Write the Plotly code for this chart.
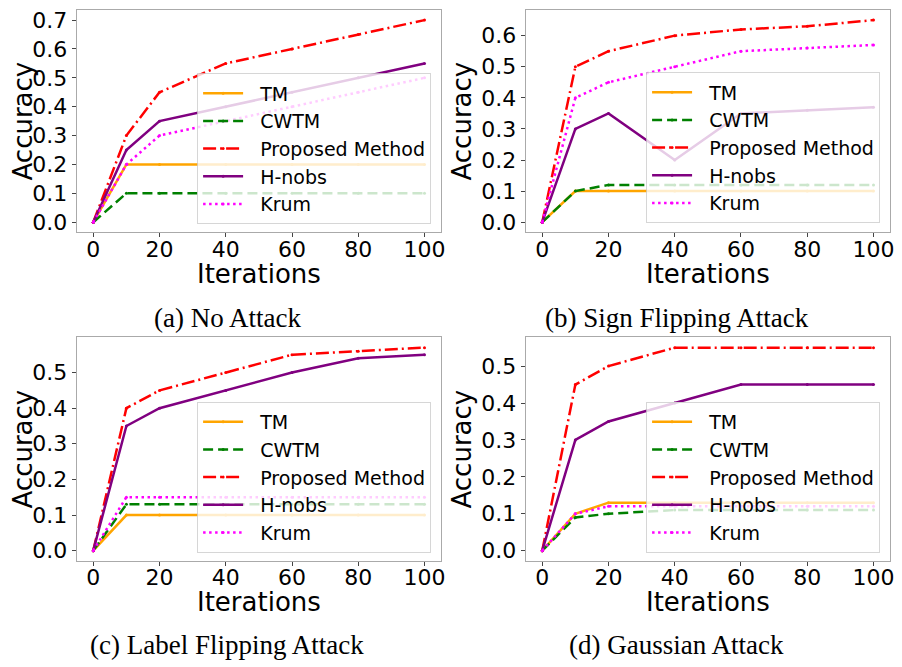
import plotly.graph_objects as go

ITER = [0, 10, 20, 40, 60, 80, 100]
SERIES = ["TM", "CWTM", "Proposed Method", "H-nobs", "Krum"]

TM_A = [0, 0.2, 0.2, 0.2, 0.2, 0.2, 0.2]
CWTM_A = [0, 0.1, 0.1, 0.1, 0.1, 0.1, 0.1]
PROP_A = [0, 0.3, 0.45, 0.55, 0.6, 0.65, 0.7]
HNOBS_A = [0, 0.25, 0.35, 0.4, 0.45, 0.5, 0.55]
KRUM_A = [0, 0.2, 0.3, 0.35, 0.4, 0.45, 0.5]

TM_B = [0, 0.1, 0.1, 0.1, 0.1, 0.1, 0.1]
CWTM_B = [0, 0.1, 0.12, 0.12, 0.12, 0.12, 0.12]
PROP_B = [0, 0.5, 0.55, 0.6, 0.62, 0.63, 0.65]
HNOBS_B = [0, 0.3, 0.35, 0.2, 0.35, 0.36, 0.37]
KRUM_B = [0, 0.4, 0.45, 0.5, 0.55, 0.56, 0.57]

TM_C = [0, 0.1, 0.1, 0.1, 0.1, 0.1, 0.1]
CWTM_C = [0, 0.13, 0.13, 0.13, 0.13, 0.13, 0.13]
PROP_C = [0, 0.4, 0.45, 0.5, 0.55, 0.56, 0.57]
HNOBS_C = [0, 0.35, 0.4, 0.45, 0.5, 0.54, 0.55]
KRUM_C = [0, 0.15, 0.15, 0.15, 0.15, 0.15, 0.15]

TM_D = [0, 0.1, 0.13, 0.13, 0.13, 0.13, 0.13]
CWTM_D = [0, 0.09, 0.1, 0.11, 0.11, 0.11, 0.11]
PROP_D = [0, 0.45, 0.5, 0.55, 0.55, 0.55, 0.55]
HNOBS_D = [0, 0.3, 0.35, 0.4, 0.45, 0.45, 0.45]
KRUM_D = [0, 0.1, 0.12, 0.12, 0.12, 0.12, 0.12]

CAPTIONS = ["(a) No Attack", "(b) Sign Flipping Attack",
            "(c) Label Flipping Attack", "(d) Gaussian Attack"]
X_TITLE = "Iterations"
Y_TITLE = "Accuracy"
X_TICKS = [0, 20, 40, 60, 80, 100]

PANELS = [
    [TM_A, CWTM_A, PROP_A, HNOBS_A, KRUM_A],
    [TM_B, CWTM_B, PROP_B, HNOBS_B, KRUM_B],
    [TM_C, CWTM_C, PROP_C, HNOBS_C, KRUM_C],
    [TM_D, CWTM_D, PROP_D, HNOBS_D, KRUM_D],
]

COLORS = ["#FFA500", "#008000", "#FF0000", "#800080", "#FF00FF"]
DASHES = ["solid", "10px,5px", "13px,4px,2px,4px", "solid", "2.5px,3.5px"]

# page body has an 8px margin: figure sits at (8, 8)
OFF = 8
W, H = 902 - OFF, 667 - OFF
# target screen pixel frames: (left, top, right, bottom)
FRAMES = [(77, 8, 443, 232), (528, 8, 894, 232),
          (77, 338, 443, 563), (528, 338, 894, 563)]
LEGEND_BR = [(433, 224), (884, 223), (433, 555), (884, 555)]
CAPTION_POS = [(228, 318), (680, 318), (228, 648), (680, 648)]


def px(x):
    return min(1.0, max(0.0, (x - OFF) / W))


def py(y):
    return min(1.0, max(0.0, 1 - (y - OFF) / H))


NB = "\u00a0"

fig = go.Figure()
layout = dict(
    width=W, height=H,
    margin=dict(l=0, r=0, t=0, b=0),
    paper_bgcolor="white", plot_bgcolor="white",
    font=dict(family="DejaVu Sans", color="black"),
    showlegend=True,
)

annotations = []
for i, series in enumerate(PANELS):
    idx = "" if i == 0 else str(i + 1)
    xa, ya = "x" + idx, "y" + idx
    leg = "legend" + idx
    for j, vals in enumerate(series):
        fig.add_trace(go.Scatter(
            x=ITER, y=vals, name=NB + NB + SERIES[j], mode="lines+markers",
            line=dict(color=COLORS[j], width=2.5, dash=DASHES[j]),
            marker=dict(color=COLORS[j], size=3),
            xaxis=xa, yaxis=ya, legend=leg,
        ))
    l, t, r, b = FRAMES[i]
    ymax = max(max(v) for v in series)
    ymin = min(min(v) for v in series)
    pad = 0.05 * (ymax - ymin)
    layout["xaxis" + idx] = dict(
        domain=[px(l), px(r)], anchor=ya,
        range=[-5, 105], tickvals=X_TICKS,
        showgrid=False, zeroline=False,
        showline=True, mirror=True, linecolor="#aaaaaa", linewidth=1,
        ticks="outside", ticklen=4, tickcolor="#444444",
        ticklabeloverflow="allow", ticklabelstandoff=-7,
        tickfont=dict(size=22, family="DejaVu Sans", color="black"),
    )
    layout["yaxis" + idx] = dict(
        domain=[py(b), py(t)], anchor=xa,
        range=[ymin - pad, ymax + pad], dtick=0.1, tick0=0, tickformat=".1f",
        showgrid=False, zeroline=False,
        showline=True, mirror=True, linecolor="#aaaaaa", linewidth=1,
        ticks="outside", ticklen=4, tickcolor="#444444",
        ticklabeloverflow="allow",
        tickfont=dict(size=22, family="DejaVu Sans", color="black"),
        title=dict(text=Y_TITLE, font=dict(size=26, family="DejaVu Sans", color="black"), standoff=2),
    )
    lx, ly = LEGEND_BR[i]
    layout[leg] = dict(
        x=px(lx), y=py(ly), xanchor="right", yanchor="bottom",
        bgcolor="rgba(255,255,255,0.8)", bordercolor="rgba(204,204,204,0.8)", borderwidth=1,
        font=dict(size=19, family="DejaVu Sans", color="black"),
        itemwidth=40, traceorder="normal",
    )
    # x-axis title
    annotations.append(dict(
        text=X_TITLE, x=px((l + r) / 2), y=py(b + 42), xref="paper", yref="paper",
        showarrow=False, xanchor="center", yanchor="middle",
        font=dict(size=26, family="DejaVu Sans", color="black"),
    ))
    cx, cy = CAPTION_POS[i]
    annotations.append(dict(
        text=CAPTIONS[i], x=px(cx), y=py(cy), xref="paper", yref="paper",
        showarrow=False, xanchor="center", yanchor="middle",
        font=dict(size=27, family="Liberation Serif", color="black"),
    ))

layout["annotations"] = annotations
fig.update_layout(**layout)
fig.write_html("out.html")
